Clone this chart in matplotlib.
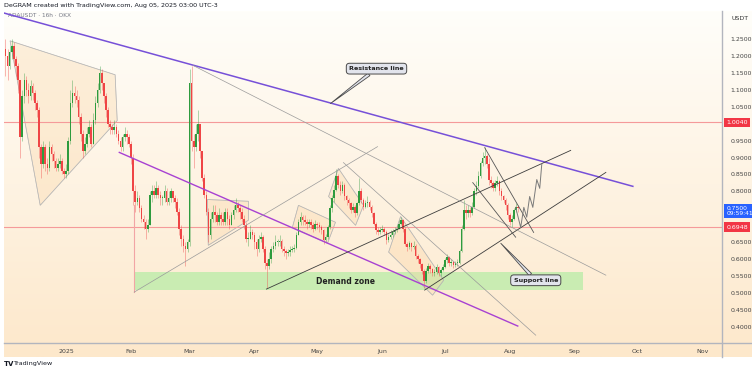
import datetime as dt
import numpy as np
import matplotlib
matplotlib.use('Agg')
import matplotlib.pyplot as plt
import matplotlib.dates as mdates
import matplotlib.transforms as mtransforms
from matplotlib.patches import Polygon, Rectangle
from matplotlib.lines import Line2D

# daily candles from 2024-12-03 to 2025-08-05
start_date = dt.datetime(2024, 12, 3)
closes = [
    1.20, 1.17, 1.21, 1.23, 1.19, 1.17, 1.13, 0.96, 1.08, 1.13, 1.10, 1.08, 1.11, 1.09, 1.06, 1.04, 0.93, 0.88, 0.93, 0.88,
    0.87, 0.93, 0.91, 0.89, 0.87, 0.88, 0.89, 0.86, 0.85,
    0.86, 0.95, 1.06, 1.09, 1.08, 1.07, 1.02, 0.97, 0.92, 0.94, 0.97, 0.99, 0.94, 1.01, 1.06, 1.10, 1.15, 1.12, 1.08, 1.04,
    1.00, 0.99, 0.98, 0.99, 0.97, 0.95, 0.93, 0.96, 0.97, 0.96, 0.94, 0.90,
    0.80, 0.77, 0.78, 0.75, 0.72, 0.71, 0.69, 0.70, 0.79, 0.80, 0.79, 0.81, 0.79, 0.78, 0.78, 0.80, 0.77, 0.78, 0.80, 0.78,
    0.77, 0.74, 0.69, 0.66, 0.64, 0.63, 0.65,
    1.12, 0.95, 0.93, 0.97, 1.00, 0.92, 0.84, 0.79, 0.74, 0.67, 0.72, 0.74, 0.73, 0.71, 0.73, 0.72, 0.71, 0.74, 0.72, 0.70,
    0.73, 0.745, 0.76, 0.75, 0.74, 0.72, 0.70, 0.66, 0.66, 0.68, 0.67,
    0.65, 0.63, 0.66, 0.665, 0.63, 0.59, 0.58, 0.60, 0.63, 0.64, 0.65, 0.65, 0.655, 0.63, 0.625, 0.617, 0.62, 0.626, 0.63,
    0.632, 0.67, 0.71, 0.725, 0.715, 0.71, 0.705, 0.71, 0.70, 0.69, 0.705,
    0.70, 0.694, 0.685, 0.656, 0.665, 0.695, 0.75, 0.78, 0.805, 0.845, 0.82, 0.80, 0.82, 0.785, 0.775, 0.765, 0.745, 0.755,
    0.735, 0.765, 0.80, 0.775, 0.755, 0.765, 0.77, 0.755, 0.735, 0.705, 0.685, 0.68, 0.685,
    0.69, 0.68, 0.656, 0.665, 0.67, 0.68, 0.685, 0.69, 0.705, 0.715, 0.69, 0.645, 0.635, 0.647, 0.635, 0.64, 0.61, 0.60,
    0.585, 0.565, 0.535, 0.565, 0.58, 0.57, 0.56, 0.562, 0.577, 0.56, 0.568, 0.577,
    0.597, 0.606, 0.588, 0.591, 0.582, 0.588, 0.59, 0.625, 0.69, 0.745, 0.735, 0.745, 0.735, 0.755, 0.80, 0.815, 0.845,
    0.885, 0.90, 0.905, 0.88, 0.835, 0.825, 0.81, 0.826, 0.83, 0.80, 0.785, 0.775, 0.76, 0.73,
    0.71, 0.72, 0.745, 0.755, 0.75,
]
highs = [
    1.25, 1.22, 1.23, 1.25, 1.24, 1.20, 1.18, 1.13, 1.10, 1.15, 1.14, 1.12, 1.13, 1.12, 1.10, 1.07, 1.05, 0.94, 0.95, 0.94,
    0.90, 0.95, 0.94, 0.92, 0.90, 0.90, 0.91, 0.90, 0.87,
    0.88, 0.96, 1.10, 1.13, 1.11, 1.10, 1.08, 1.03, 0.98, 0.96, 0.99, 1.01, 1.00, 1.03, 1.08, 1.12, 1.17, 1.16, 1.12, 1.09,
    1.05, 1.01, 1.00, 1.01, 1.00, 0.98, 0.96, 0.97, 0.99, 0.98, 0.97, 0.95,
    0.91, 0.82, 0.80, 0.79, 0.76, 0.73, 0.72, 0.72, 0.80, 0.82, 0.82, 0.83, 0.82, 0.80, 0.79, 0.82, 0.81, 0.80, 0.81, 0.80,
    0.79, 0.78, 0.75, 0.70, 0.67, 0.65, 0.66,
    1.16, 1.17, 0.97, 1.00, 1.04, 1.00, 0.92, 0.85, 0.80, 0.75, 0.74, 0.76, 0.76, 0.74, 0.75, 0.74, 0.74, 0.75, 0.75, 0.73,
    0.74, 0.76, 0.78, 0.77, 0.76, 0.75, 0.73, 0.71, 0.68, 0.70, 0.69,
    0.68, 0.66, 0.67, 0.68, 0.67, 0.64, 0.60, 0.62, 0.64, 0.65, 0.67, 0.66, 0.67, 0.66, 0.64, 0.63, 0.63, 0.64, 0.64, 0.645,
    0.68, 0.72, 0.74, 0.73, 0.73, 0.72, 0.72, 0.72, 0.71, 0.715,
    0.71, 0.71, 0.70, 0.69, 0.675, 0.70, 0.76, 0.79, 0.82, 0.865, 0.85, 0.83, 0.83, 0.825, 0.79, 0.78, 0.77, 0.765, 0.76,
    0.77, 0.84, 0.81, 0.78, 0.775, 0.785, 0.775, 0.76, 0.74, 0.71, 0.695, 0.695,
    0.70, 0.695, 0.685, 0.675, 0.685, 0.69, 0.695, 0.70, 0.715, 0.725, 0.72, 0.695, 0.65, 0.655, 0.65, 0.655, 0.645, 0.615,
    0.605, 0.59, 0.57, 0.575, 0.59, 0.585, 0.575, 0.57, 0.585, 0.58, 0.575, 0.585,
    0.605, 0.615, 0.61, 0.60, 0.595, 0.595, 0.60, 0.63, 0.70, 0.775, 0.76, 0.76, 0.755, 0.77, 0.81, 0.83, 0.86, 0.89, 0.915,
    0.93, 0.91, 0.90, 0.845, 0.83, 0.835, 0.845, 0.835, 0.81, 0.79, 0.78, 0.765,
    0.735, 0.73, 0.75, 0.765, 0.76,
]
lows = [
    1.14, 1.13, 1.16, 1.19, 1.17, 1.14, 1.09, 0.90, 0.95, 1.06, 1.08, 1.06, 1.07, 1.07, 1.04, 1.02, 0.90, 0.84, 0.87, 0.86,
    0.85, 0.86, 0.89, 0.87, 0.86, 0.86, 0.87, 0.85, 0.84,
    0.84, 0.85, 0.94, 1.05, 1.06, 1.05, 1.00, 0.95, 0.90, 0.91, 0.93, 0.96, 0.93, 0.94, 1.00, 1.05, 1.09, 1.10, 1.06, 1.02,
    0.99, 0.97, 0.97, 0.97, 0.96, 0.94, 0.92, 0.92, 0.95, 0.94, 0.93, 0.88,
    0.76, 0.74, 0.76, 0.74, 0.71, 0.69, 0.66, 0.68, 0.70, 0.77, 0.78, 0.78, 0.78, 0.76, 0.76, 0.77, 0.76, 0.76, 0.77, 0.77,
    0.75, 0.73, 0.67, 0.64, 0.62, 0.58, 0.62,
    0.64, 0.92, 0.87, 0.92, 0.95, 0.90, 0.83, 0.78, 0.73, 0.65, 0.66, 0.71, 0.71, 0.70, 0.70, 0.70, 0.70, 0.70, 0.70, 0.69,
    0.70, 0.72, 0.74, 0.74, 0.72, 0.71, 0.69, 0.65, 0.64, 0.66, 0.66,
    0.63, 0.61, 0.62, 0.65, 0.62, 0.57, 0.515, 0.57, 0.59, 0.62, 0.63, 0.64, 0.64, 0.62, 0.61, 0.60, 0.61, 0.61, 0.62, 0.62,
    0.63, 0.67, 0.70, 0.70, 0.70, 0.69, 0.695, 0.69, 0.68, 0.685,
    0.69, 0.68, 0.675, 0.645, 0.65, 0.66, 0.69, 0.74, 0.77, 0.80, 0.81, 0.79, 0.795, 0.775, 0.76, 0.75, 0.735, 0.74, 0.725,
    0.73, 0.76, 0.765, 0.745, 0.75, 0.755, 0.745, 0.725, 0.70, 0.675, 0.67, 0.675,
    0.68, 0.67, 0.645, 0.65, 0.66, 0.665, 0.675, 0.68, 0.69, 0.70, 0.68, 0.64, 0.625, 0.63, 0.625, 0.63, 0.60, 0.59, 0.575,
    0.555, 0.515, 0.53, 0.56, 0.56, 0.55, 0.55, 0.555, 0.55, 0.55, 0.565,
    0.575, 0.59, 0.58, 0.58, 0.575, 0.578, 0.58, 0.585, 0.62, 0.685, 0.72, 0.725, 0.725, 0.73, 0.75, 0.79, 0.81, 0.84, 0.875,
    0.88, 0.87, 0.82, 0.81, 0.80, 0.80, 0.815, 0.79, 0.775, 0.765, 0.745, 0.72,
    0.70, 0.695, 0.715, 0.74, 0.74,
]
first_open = 1.22

# drawings: (days from 2025-01-01, price)
resistance_line = [(-29.7, 1.326), (270.8, 0.815)]
lower_line = [(25.4, 0.915), (215.8, 0.403)]
dark_lines = [[(95.7, 0.512), (241.1, 0.921)], [(171.3, 0.509), (257.9, 0.856)]]
grey_lines = [[(32.5, 0.503), (148.8, 0.932)], [(60.8, 1.171), (257.9, 0.553)], [(132.5, 0.885), (224.4, 0.376)]]
wedge_lines = [[(200.0, 0.929), (223.4, 0.679)], [(194.3, 0.826), (214.8, 0.665)]]
pink_line = [(32.5, 0.759), (32.5, 0.503)]
patterns = [
    [(-26.8, 1.244), (23.4, 1.144), (24.4, 1.009), (-12.4, 0.759)],
    [(67.5, 0.776), (87.1, 0.771), (87.1, 0.715), (67.9, 0.641)],
    [(111.0, 0.759), (128.7, 0.709), (124.9, 0.647), (108.1, 0.694)],
    [(130.1, 0.868), (142.1, 0.759), (138.3, 0.700), (125.4, 0.785)],
    [(159.8, 0.726), (180.4, 0.538), (175.1, 0.494), (154.1, 0.621)],
]
demand_zone = (32.5, 246.9, 0.509, 0.562)
proj_t = [214.8, 217.2, 218.7, 220.1, 221.5, 223.0, 224.9, 226.3, 227.3]
proj_p = [0.753, 0.694, 0.753, 0.724, 0.785, 0.753, 0.835, 0.809, 0.882]
h_levels = [1.004, 0.6948]

price_ticks = [1.25, 1.20, 1.15, 1.10, 1.05, 0.95, 0.90, 0.85, 0.80, 0.65, 0.60, 0.55, 0.50, 0.45, 0.40]
month_starts = ['2025-01-01', '2025-02-01', '2025-03-01', '2025-04-01', '2025-05-01', '2025-06-01',
                '2025-07-01', '2025-08-01', '2025-09-01', '2025-10-01', '2025-11-01']
month_labels = ['2025', 'Feb', 'Mar', 'Apr', 'May', 'Jun', 'Jul', 'Aug', 'Sep', 'Oct', 'Nov']

t0 = mdates.date2num(dt.datetime(2025, 1, 1))


def tx(pts):
    return [t0 + p[0] for p in pts], [p[1] for p in pts]


fig = plt.figure(figsize=(7.52, 3.71), dpi=100)
fig.patch.set_facecolor('white')

# background gradient of the chart pane
bg = fig.add_axes([4 / 752, 14 / 371, 748 / 752, 346 / 371])
top_c = np.array([255, 254, 250]) / 255.0
bot_c = np.array([253, 232, 203]) / 255.0
g = np.linspace(0, 1, 256)[:, None]
grad = top_c[None, :] * (1 - g) + bot_c[None, :] * g
bg.imshow(grad[:, None, :], aspect='auto', extent=[0, 1, 0, 1])
bg.set_axis_off()

ax = fig.add_axes([4 / 752, 28 / 371, 718 / 752, 332 / 371])
ax.set_facecolor('none')
for s in ax.spines.values():
    s.set_visible(False)

# demand zone and pattern shapes
x0, x1, y0, y1 = demand_zone
ax.add_patch(Rectangle((t0 + x0, y0), x1 - x0, y1 - y0, facecolor='#c9ecb2', edgecolor='none', zorder=1))
ax.text(t0 + 133.5, 0.535, 'Demand zone', fontsize=5.5, fontweight='bold', color='#222222',
        ha='center', va='center', zorder=6)
for poly in patterns:
    xs, ys = tx(poly)
    ax.add_patch(Polygon(list(zip(xs, ys)), closed=True, facecolor='#fbd7a8', alpha=0.35,
                         edgecolor='#a9a9a9', lw=0.5, zorder=1))
    ax.add_patch(Polygon(list(zip(xs, ys)), closed=True, facecolor='none',
                         edgecolor='#b5b5b5', lw=0.5, zorder=1))

for lvl in h_levels:
    ax.axhline(lvl, color='#f59a9a', lw=0.8, zorder=2)

# candles
opens = [first_open] + closes[:-1]
xs = [mdates.date2num(start_date + dt.timedelta(days=i)) for i in range(len(closes))]
for x, o, h, l, c in zip(xs, opens, highs, lows, closes):
    col = '#2e9b3e' if c >= o else '#ef4545'
    ax.vlines(x, min(l, o, c), max(h, o, c), color=col, lw=0.6, alpha=0.45, zorder=3)
    ax.bar(x, max(abs(c - o), 0.003), bottom=min(o, c), width=0.75, color=col, lw=0, zorder=4)

# trend lines
xs_, ys_ = tx(resistance_line)
ax.plot(xs_, ys_, color='#7650d8', lw=1.1, zorder=5)
xs_, ys_ = tx(lower_line)
ax.plot(xs_, ys_, color='#a841d2', lw=1.0, zorder=5)
for ln in dark_lines:
    xs_, ys_ = tx(ln)
    ax.plot(xs_, ys_, color='#3c3c3c', lw=0.6, zorder=5)
for ln in grey_lines:
    xs_, ys_ = tx(ln)
    ax.plot(xs_, ys_, color='#9a9a9a', lw=0.5, zorder=5)
for ln in wedge_lines:
    xs_, ys_ = tx(ln)
    ax.plot(xs_, ys_, color='#555555', lw=0.6, zorder=5)
xs_, ys_ = tx(pink_line)
ax.plot(xs_, ys_, color='#f2a5a5', lw=0.8, zorder=2)
ax.plot([t0 + t for t in proj_t], proj_p, color='#7a7a7a', lw=0.7, zorder=5)

# callouts
box = dict(boxstyle='round,pad=0.45,rounding_size=0.5', fc='#e2e4ec', ec='#4a4a4a', lw=0.7)
arrow = dict(arrowstyle='wedge,tail_width=0.5,shrink_factor=0.5', fc='#e2e4ec', ec='#4a4a4a', lw=0.6,
             shrinkA=0, shrinkB=0)
ax.annotate('Resistance line', xy=(t0 + 126.3, 1.059), xytext=(t0 + 148.3, 1.162), fontsize=4.6,
            fontweight='bold', color='#222222', ha='center', va='center', bbox=box, arrowprops=arrow, zorder=7)
ax.annotate('Support line', xy=(t0 + 207.7, 0.647), xytext=(t0 + 224.4, 0.538), fontsize=4.6,
            fontweight='bold', color='#222222', ha='center', va='center', bbox=box, arrowprops=arrow, zorder=7)

ax.set_xlim(t0 - 29.7, t0 + 313.4)
ax.set_ylim(0.353, 1.332)

ax.set_xticks([mdates.date2num(dt.datetime.strptime(m, '%Y-%m-%d')) for m in month_starts])
ax.set_xticklabels(month_labels)
ax.tick_params(axis='x', length=0, pad=4, labelsize=4.5, labelcolor='#444444')
ax.yaxis.tick_right()
ax.set_yticks(price_ticks)
ax.set_yticklabels(['%.4f' % p for p in price_ticks])
ax.tick_params(axis='y', length=0, pad=6, labelsize=4.5, labelcolor='#444444')

# price tags on the axis
trans = mtransforms.blended_transform_factory(ax.transAxes, ax.transData)
ax.text(1.006, 1.004, '1.0040', transform=trans, fontsize=4.5, color='white', va='center', ha='left',
        bbox=dict(boxstyle='square,pad=0.35', fc='#f23645', ec='none'), clip_on=False, zorder=8)
ax.text(1.006, 0.6948, '0.6948', transform=trans, fontsize=4.5, color='white', va='center', ha='left',
        bbox=dict(boxstyle='square,pad=0.35', fc='#f23645', ec='none'), clip_on=False, zorder=8)
ax.text(1.006, 0.742, '0.7500\n09:59:41', transform=trans, fontsize=4.3, color='white', va='center', ha='left',
        linespacing=1.1, bbox=dict(boxstyle='square,pad=0.35', fc='#2962ff', ec='none'), clip_on=False, zorder=8)

# pane separators
fig.add_artist(Line2D([722 / 752, 722 / 752], [14 / 371, 360 / 371], color='#b2b5be', lw=1.0))
fig.add_artist(Line2D([4 / 752, 1.0], [28 / 371, 28 / 371], color='#b2b5be', lw=1.0))

fig.text(4 / 752, 1 - 5 / 371, 'DeGRAM created with TradingView.com, Aug 05, 2025 03:00 UTC-3',
         fontsize=4.6, color='#131722', va='center')
ax.text(0.006, 0.985, 'ADAUSDT · 16h · OKX', transform=ax.transAxes, fontsize=4.2, color='#787b86', va='center')
fig.text(731 / 752, 1 - 18 / 371, 'USDT', fontsize=4.5, color='#333333', va='center')
fig.text(4 / 752, 7 / 371, 'TV', fontsize=5, fontweight='bold', color='#131722', va='center')
fig.text(13 / 752, 7 / 371, 'TradingView', fontsize=4.6, color='#131722', va='center')

fig.savefig('out.png', dpi=100)
